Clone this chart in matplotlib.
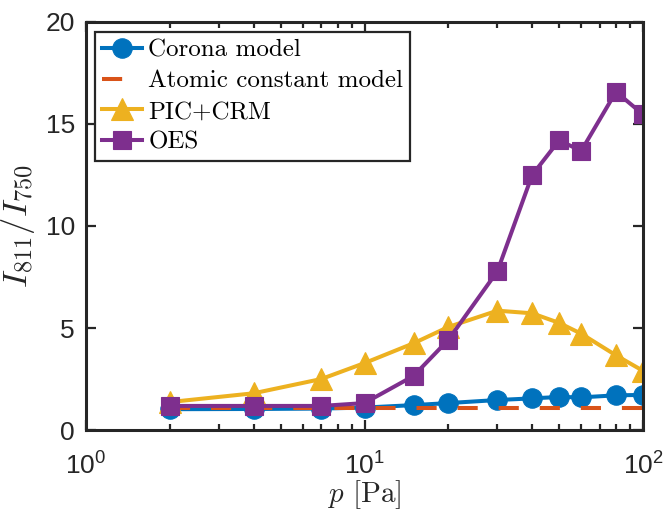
import matplotlib
matplotlib.use("Agg")
import matplotlib.pyplot as plt
import matplotlib.ticker as ticker

# pressure [Pa]
pressure = [2, 4, 7, 10, 15, 20, 30, 40, 50, 60, 80, 100]
corona = [1.02, 1.03, 1.05, 1.10, 1.22, 1.32, 1.47, 1.55, 1.62, 1.60, 1.70, 1.72]
atomic = [1.10] * len(pressure)
pic_crm = [1.37, 1.80, 2.50, 3.28, 4.25, 5.05, 5.85, 5.72, 5.25, 4.72, 3.66, 2.90]
oes = [1.18, 1.18, 1.18, 1.32, 2.65, 4.42, 7.78, 12.50, 14.20, 13.68, 16.58, 15.47]

C_BLUE, C_ORANGE, C_YELLOW, C_PURPLE = "#0072BD", "#D95319", "#EDB120", "#7E2F8E"
INK = "#262626"

plt.rcParams.update({
  "font.family": "Liberation Sans",
  "mathtext.fontset": "custom",
  "mathtext.rm": "Liberation Sans",
  "mathtext.it": "Liberation Sans:italic",
  "mathtext.bf": "Liberation Sans:bold",
  "font.size": 19,
})

fig = plt.figure(figsize=(6.67, 5.15), dpi=100)
ax = fig.add_axes([86 / 667, 85 / 515, 557 / 667, 408 / 515])

lw = 2.9
ax.plot(pressure, corona, "-o", color=C_BLUE, lw=lw, ms=14,
        mec=C_BLUE, mew=0.8, label="Corona model")
ax.plot(pressure, atomic, "--", color=C_ORANGE, lw=lw, dashes=(5.0, 5.2),
        label="Atomic constant model")
ax.plot(pressure, pic_crm, "-^", color=C_YELLOW, lw=lw, ms=16,
        mec=C_YELLOW, mew=0.8, label="PIC+CRM")
ax.plot(pressure, oes, "-s", color=C_PURPLE, lw=lw, ms=13,
        mec=C_PURPLE, mew=0.8, label="OES")

ax.set_xscale("log")
ax.set_xlim(1, 100)
ax.set_ylim(0, 20)
ax.set_yticks([0, 5, 10, 15, 20])
ax.xaxis.set_major_locator(ticker.LogLocator(base=10, numticks=5))
ax.xaxis.set_minor_locator(ticker.LogLocator(base=10, subs=range(2, 10), numticks=20))
ax.xaxis.set_minor_formatter(ticker.NullFormatter())

for s in ax.spines.values():
  s.set_linewidth(2.2)
  s.set_color(INK)
ax.tick_params(which="both", direction="in", top=True, right=True,
               color=INK, labelcolor=INK, width=1.6)
ax.tick_params(which="major", length=7)
ax.tick_params(which="minor", length=4)
ax.tick_params(axis="x", pad=16)
ax.tick_params(axis="y", pad=8)

ax.set_xlabel(r"$p$ [Pa]", family="cmr10", math_fontfamily="cm",
              fontsize=21, color=INK, labelpad=-1)
ax.set_ylabel(r"$I_{811}/I_{750}$", math_fontfamily="cm",
              fontsize=25, color=INK, labelpad=6)

leg = ax.legend(loc="upper left", bbox_to_anchor=(0.016, 0.975),
                borderaxespad=0, prop={"family": "cmr10", "size": 18},
                fancybox=False, framealpha=1, edgecolor=INK,
                handlelength=1.6, handletextpad=0.25, labelspacing=0.33,
                borderpad=0.28, numpoints=1)
leg.get_frame().set_linewidth(1.6)

fig.savefig("out.png", dpi=100)
